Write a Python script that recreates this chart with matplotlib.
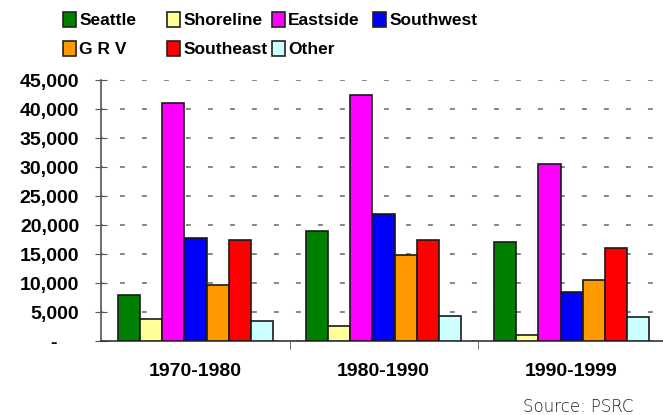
import numpy as np
import matplotlib
matplotlib.use('Agg')
import matplotlib.pyplot as plt
from matplotlib.patches import Patch
from matplotlib.ticker import FuncFormatter

# data
periods = ['1970-1980', '1980-1990', '1990-1999']
regions = ['Seattle', 'Shoreline', 'Eastside', 'Southwest', 'G R V', 'Southeast', 'Other']
seattle = [8000, 19000, 17100]
shoreline = [3800, 2600, 1000]
eastside = [41000, 42400, 30500]
southwest = [17700, 22000, 8500]
grv = [9600, 14900, 10500]
southeast = [17400, 17400, 16000]
other = [3500, 4400, 4100]
colors = ['#008000', '#FFFF99', '#FF00FF', '#0000FF', '#FF9900', '#FF0000', '#CCFFFF']

series = [seattle, shoreline, eastside, southwest, grv, southeast, other]

plt.rcParams['font.family'] = ['Liberation Sans', 'DejaVu Sans']

fig = plt.figure(figsize=(6.63, 4.15), dpi=100)
ax = fig.add_axes([0.153, 0.178, 0.851, 0.629])

x = np.arange(len(periods))
w = 0.118
for i, vals in enumerate(series):
    ax.bar(x + (i - 3) * w, vals, w, color=colors[i], edgecolor='#1a1a1a',
           linewidth=1.2, zorder=3)

ax.set_xlim(-0.5, 2.5)
ax.set_ylim(0, 45000)
ax.set_yticks(np.arange(0, 45001, 5000))
# accounting style: zero shown as a dash
ax.yaxis.set_major_formatter(FuncFormatter(lambda v, p: '-    ' if v == 0 else f'{int(v):,}'))
ax.set_xticks(x)
ax.set_xticklabels(periods, fontsize=14, fontweight='bold')
ax.set_xticks([0.5, 1.5], minor=True)
ax.tick_params(axis='x', which='major', length=0, pad=16)
ax.tick_params(axis='x', which='minor', length=6, color='#555555', direction='out')
ax.tick_params(axis='y', length=8, color='#555555', direction='inout', labelsize=14, pad=12)
for lab in ax.get_yticklabels():
    lab.set_fontweight('bold')

ax.yaxis.grid(True, color='#666666', linewidth=1.1, linestyle=(2, (3.2, 11.2)), zorder=0)
ax.set_axisbelow(True)
for s in ['top', 'right']:
    ax.spines[s].set_visible(False)
ax.spines['left'].set_color('#555555')
ax.spines['bottom'].set_color('#333333')
ax.spines['left'].set_linewidth(1.2)
ax.spines['bottom'].set_linewidth(1.2)

# legend, laid out as four columns
cols = [[0, 4], [1, 5], [2, 6], [3]]
col_x = [0.074, 0.231, 0.389, 0.541]
for cx, idx in zip(col_x, cols):
    handles = [Patch(facecolor=colors[i], edgecolor='#222222', linewidth=1.2) for i in idx]
    labels = [regions[i] for i in idx]
    fig.legend(handles, labels, loc='upper left', bbox_to_anchor=(cx, 1.005),
               frameon=False, handlelength=0.75, handleheight=0.95,
               handletextpad=0.2, labelspacing=0.72,
               prop={'size': 12.5, 'weight': 'bold'}, borderpad=0.3)

fig.text(0.872, 0.019, 'Source: PSRC', ha='center', va='center', fontsize=12,
         family='DejaVu Sans', fontweight='light', color='#222222')

fig.savefig('out.png', dpi=100)
